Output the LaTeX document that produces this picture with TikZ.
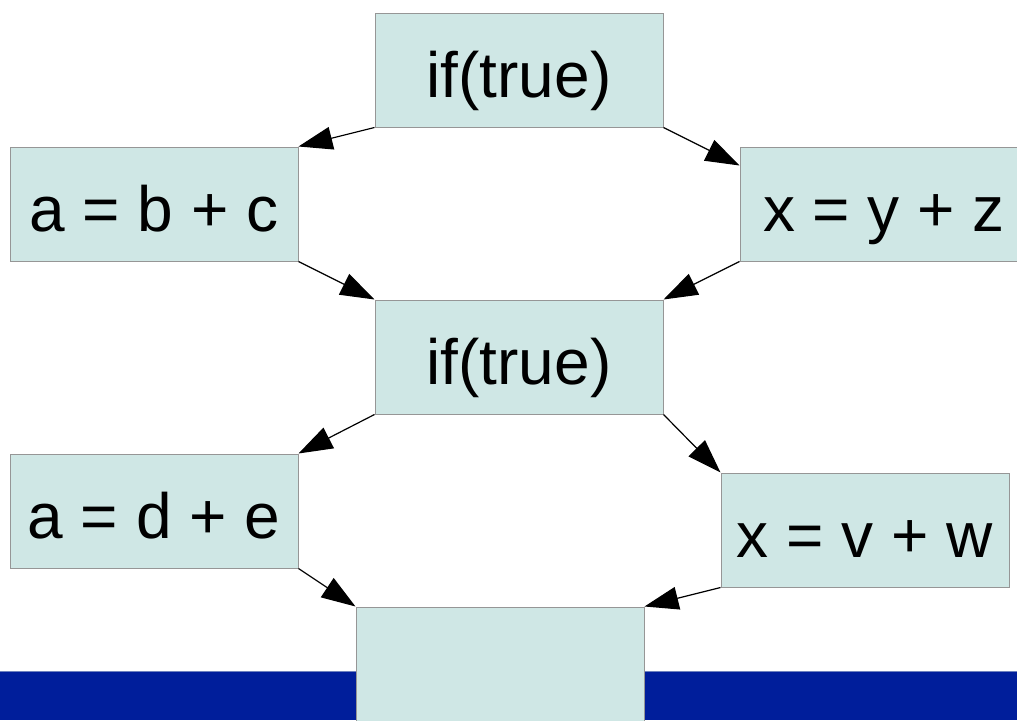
\documentclass[tikz,border=0pt]{standalone}
\usepackage{fontspec}
\setmainfont{Liberation Sans}
\usetikzlibrary{arrows.meta}
\definecolor{boxfill}{RGB}{207,231,229}
\definecolor{boxline}{RGB}{150,150,150}
\definecolor{barblue}{RGB}{0,30,155}
\definecolor{baredge}{RGB}{110,130,190}
\begin{document}
\begin{tikzpicture}[x=1pt,y=-1pt,
  blk/.style={draw=boxline, line width=1pt, fill=boxfill,
    minimum width=288pt, minimum height=114pt, inner sep=0pt,
    font=\fontsize{64}{70}\selectfont, text height=56pt, text depth=2pt},
  arr/.style={line width=1.2pt, -{Triangle[length=34pt,width=23pt]}}]
\useasboundingbox (0,0) rectangle (1017,720);
\clip (0,0) rectangle (1017,720);
\fill[barblue] (0,671) rectangle (1017,720);
\draw[baredge, line width=1pt] (0,671.5) -- (1017,671.5);
\node[blk] (if1) at (519,70) {if(true)};
\node[blk] (ab)  at (154,204) {a = b + c};
\node[blk] (xyz) at (884,204) {x = y + z};
\node[blk] (if2) at (519,357) {if(true)};
\node[blk] (de)  at (154,511) {a = d + e};
\node[blk] (vw)  at (865,530) {x = v + w};
\node[blk] (bot) at (500,664) {};
\draw[arr] (if1.south west) -- (ab.north east);
\draw[arr] (if1.south east) -- ([yshift=-19pt]xyz.north west);
\draw[arr] (ab.south east) -- (if2.north west);
\draw[arr] (xyz.south west) -- (if2.north east);
\draw[arr] (if2.south west) -- (de.north east);
\draw[arr] (if2.south east) -- (vw.north west);
\draw[arr] (de.south east) -- (bot.north west);
\draw[arr] (vw.south west) -- (bot.north east);
\end{tikzpicture}
\end{document}
